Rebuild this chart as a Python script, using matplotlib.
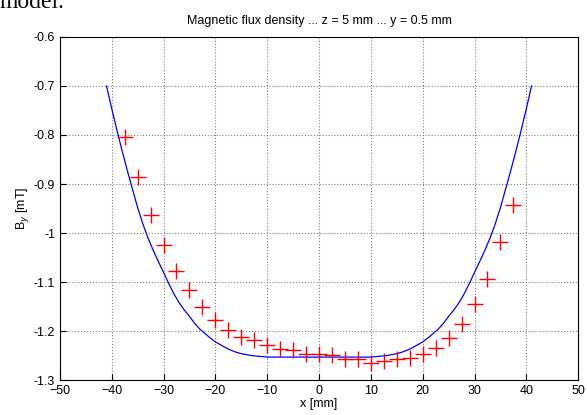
import matplotlib.pyplot as plt

plt.rcParams['font.family'] = ['Liberation Sans', 'DejaVu Sans']

# measured points (red crosses)
meas_x = [-37.5, -35, -32.5, -30, -27.5, -25, -22.5, -20, -17.5, -15, -12.5, -10,
          -7.5, -5, -2.5, 0, 2.5, 5, 7.5, 10, 12.5, 15, 17.5, 20, 22.5, 25,
          27.5, 30, 32.5, 35, 37.5]
meas_by = [-0.804, -0.886, -0.963, -1.024, -1.078, -1.116, -1.151, -1.178, -1.198,
           -1.212, -1.218, -1.229, -1.237, -1.239, -1.247, -1.247, -1.249, -1.257,
           -1.257, -1.265, -1.261, -1.257, -1.255, -1.247, -1.235, -1.214, -1.186,
           -1.145, -1.094, -1.018, -0.943]

# model curve (blue line), read every 1 mm
model_x = [-41, -40, -39, -38, -37, -36, -35, -34, -33, -32, -31, -30, -29, -28,
           -27, -26, -25, -24, -23, -22, -21, -20, -19, -18, -17, -16, -15, -14,
           -13, -12, -11, -10, -5, 0, 5, 10, 11, 12, 13, 14, 15, 16, 17, 18, 19,
           20, 21, 22, 23, 24, 25, 26, 27, 28, 29, 30, 31, 32, 33, 34, 35, 36,
           37, 38, 39, 40, 41]
model_by = [-0.700, -0.746, -0.790, -0.832, -0.872, -0.910, -0.948, -0.981, -1.010,
            -1.035, -1.058, -1.080, -1.103, -1.124, -1.142, -1.157, -1.170, -1.184,
            -1.196, -1.205, -1.214, -1.222, -1.228, -1.234, -1.239, -1.243, -1.246,
            -1.248, -1.250, -1.251, -1.252, -1.253, -1.253, -1.253, -1.253, -1.253,
            -1.252, -1.251, -1.250, -1.248, -1.246, -1.243, -1.239, -1.234, -1.228,
            -1.222, -1.214, -1.205, -1.196, -1.184, -1.170, -1.157, -1.142, -1.124,
            -1.103, -1.080, -1.058, -1.035, -1.010, -0.981, -0.948, -0.910, -0.872,
            -0.832, -0.790, -0.746, -0.700]

xticks = [-50, -40, -30, -20, -10, 0, 10, 20, 30, 40, 50]
yticks = [-1.3, -1.2, -1.1, -1.0, -0.9, -0.8, -0.7, -0.6]
ytick_labels = ['-1.3', '-1.2', '-1.1', '-1', '-0.9', '-0.8', '-0.7', '-0.6']

fig = plt.figure(figsize=(5.87, 4.15), dpi=100)
ax = fig.add_axes([0.102, 0.084, 0.883, 0.827])

ax.plot(model_x, model_by, color='blue', linewidth=0.9)
ax.plot(meas_x, meas_by, '+', color='red', markersize=11, markeredgewidth=1.0)

ax.set_xlim(-50, 50)
ax.set_ylim(-1.3, -0.6)
ax.set_xticks(xticks)
ax.set_yticks(yticks)
ax.set_yticklabels(ytick_labels)
ax.tick_params(direction='in', labelsize=9, length=4)
ax.grid(True, linestyle=':', color='gray', linewidth=0.8)

ax.set_title('Magnetic flux density ... z = 5 mm ... y = 0.5 mm', fontsize=9, pad=9)
ax.set_xlabel('x [mm]', fontsize=9, labelpad=1)
ax.set_ylabel('B$_y$ [mT]', fontsize=9, labelpad=2)

# text of the page above the figure, cut by the image edge
fig.text(0.0, 0.995, 'model.', family='Liberation Serif', fontsize=17, va='center', ha='left')

plt.savefig('out.png', dpi=100)
